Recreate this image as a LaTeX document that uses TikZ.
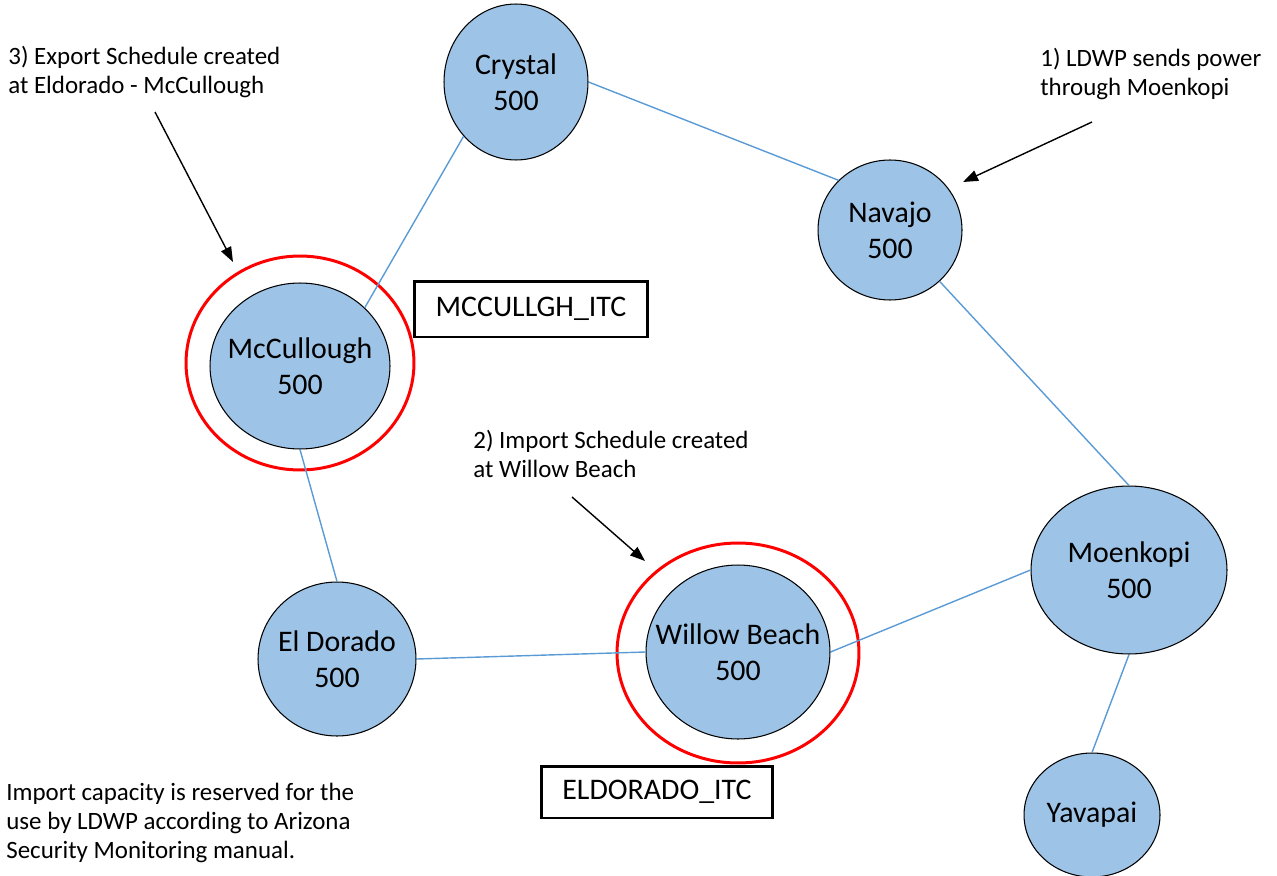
\documentclass[tikz,border=0pt]{standalone}
\usepackage{fontspec}
\setmainfont{Carlito}
\usetikzlibrary{shapes.geometric,arrows.meta}
\definecolor{busfill}{RGB}{157,195,230}
\definecolor{lineblue}{RGB}{91,155,213}
\definecolor{ringred}{RGB}{255,0,0}

\begin{document}
\begin{tikzpicture}[>={Triangle[length=3mm,width=2.2mm]},x=0.02cm,y=-0.02cm,
	station/.style={ellipse,draw=black,line width=0.6pt,fill=busfill,inner sep=0pt},
	stationtext/.style={align=center,font=\fontsize{17}{20.5}\selectfont},
	ring/.style={ellipse,draw=ringred,line width=1.7pt,inner sep=0pt},
	itcbox/.style={draw=black,line width=1.7pt,inner sep=0pt,font=\fontsize{17}{20.5}\selectfont},
	note/.style={align=left,anchor=west,inner sep=0pt,font=\fontsize{14.2}{16.5}\selectfont},
	tie/.style={draw=lineblue,line width=0.8pt}]
	\useasboundingbox (0,0) rectangle (1277,875);
	% the 500 kV buses
	\node[station,minimum width=2.88cm,minimum height=3.12cm,label={[stationtext]center:{Crystal\\500}}] (crystal) at (516,82) {};
	\node[station,minimum width=2.88cm,minimum height=2.8cm,label={[stationtext]center:{Navajo\\500}}] (navajo) at (890,230) {};
	\node[station,minimum width=3.6cm,minimum height=3.32cm,label={[stationtext]center:{McCullough\\500}}] (mccullough) at (300,366) {};
	\node[station,minimum width=3.16cm,minimum height=3.08cm,label={[stationtext]center:{El Dorado\\500}}] (eldorado) at (337,659) {};
	\node[station,minimum width=3.68cm,minimum height=3.48cm,label={[stationtext]center:{Willow Beach\\500}}] (willow) at (738,652) {};
	\node[station,minimum width=3.92cm,minimum height=3.36cm,label={[stationtext]center:{Moenkopi\\500}}] (moenkopi) at (1129,570) {};
	\node[station,minimum width=2.72cm,minimum height=2.48cm,label={[stationtext]center:Yavapai}] (yavapai) at (1092,815) {};
	% rings round the ITC buses
	\node[ring,minimum width=4.56cm,minimum height=4.28cm] (mcring) at (300,363) {};
	\node[ring,minimum width=4.84cm,minimum height=4.4cm] (wbring) at (738,653) {};
	% lines
	\path[tie] (crystal.east) -- (navajo.136);
	\path[tie] (crystal.226) -- (mccullough.42);
	\path[tie] (navajo.-46) -- (moenkopi.north);
	\path[tie] (mccullough.south) -- (eldorado.north);
	\path[tie] (eldorado.east) -- (willow.west);
	\path[tie] (willow.east) -- (moenkopi.west);
	\path[tie] (moenkopi.south) -- (yavapai.north);
	% ITC names
	\node[itcbox,minimum width=4.66cm,minimum height=1.12cm] (mcitc) at (531,309) {MCCULLGH\_ITC};
	\node[itcbox,minimum width=4.64cm,minimum height=1.04cm] (elitc) at (657,792) {ELDORADO\_ITC};
	% notes
	\node[note] (step3) at (8,72) {3) Export Schedule created\\at Eldorado - McCullough};
	\node[note] (step1) at (1040,74) {1) LDWP sends power\\through Moenkopi};
	\node[note] (step2) at (473,454) {2) Import Schedule created\\at Willow Beach};
	\node[note] (reserve) at (6,823) {Import capacity is reserved for the\\use by LDWP according to Arizona\\Security Monitoring manual.};
	\coordinate (s3) at (155,112); \coordinate (e3) at (233,262);
	\coordinate (s1) at (1092,122); \coordinate (e1) at (963,182);
	\coordinate (s2) at (572,497); \coordinate (e2) at (645,561);
	\draw[->,line width=0.8pt] (s3) -- (e3);
	\draw[->,line width=0.8pt] (s1) -- (e1);
	\draw[->,line width=0.8pt] (s2) -- (e2);
\end{tikzpicture}
\end{document}
